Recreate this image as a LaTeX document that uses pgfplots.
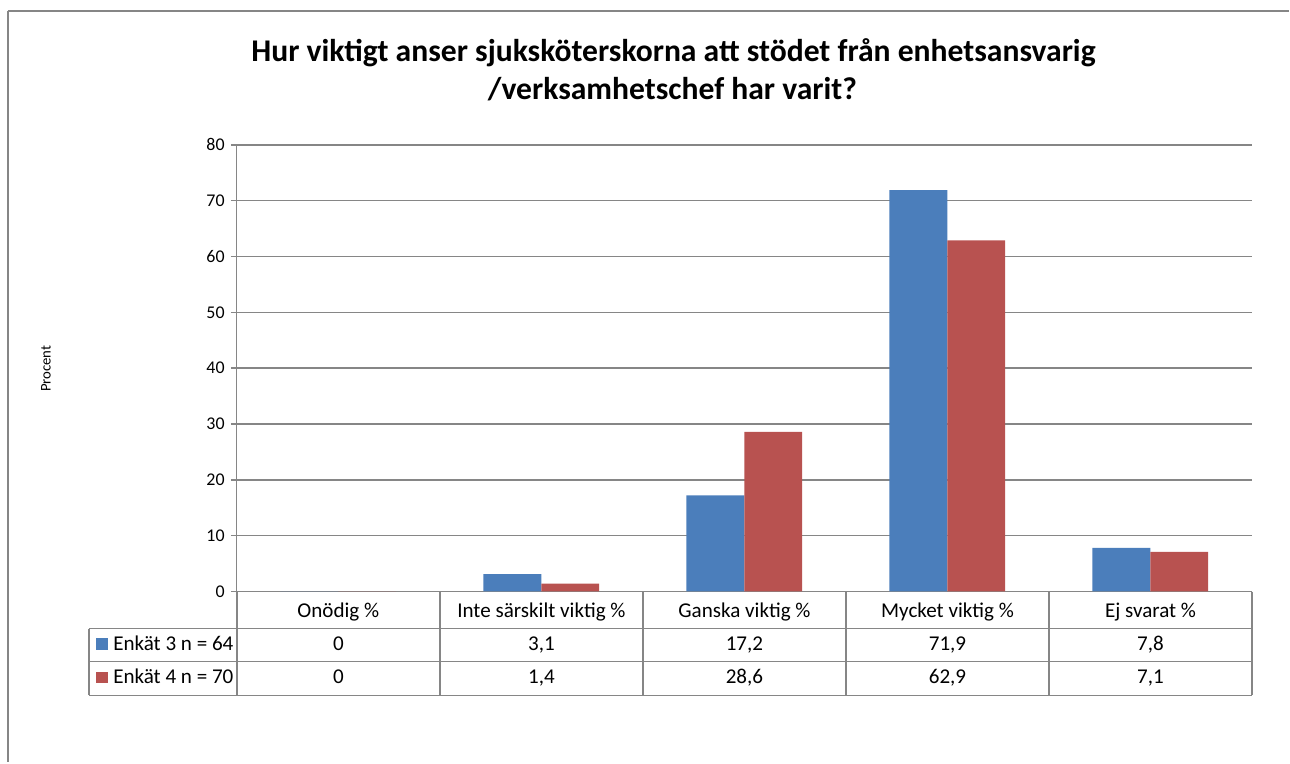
\documentclass[border=0pt]{standalone}
\usepackage{fontspec}
\setmainfont{Carlito}
\usepackage{pgfplots}
\usepackage{pgfplotstable}
\pgfplotsset{compat=1.18}
\definecolor{serA}{RGB}{75,126,187}
\definecolor{serB}{RGB}{184,82,80}
\definecolor{lineg}{RGB}{134,134,134}

% svar per kategori (procent)
\pgfplotstableread{
x  e3    e4
0  0     0
1  3.1   1.4
2  17.2  28.6
3  71.9  62.9
4  7.8   7.1
}\svar

\newcommand{\tf}{\fontsize{12}{14}\selectfont}
\newcommand{\af}{\fontsize{10.2}{12}\selectfont}

\begin{document}
\begin{tikzpicture}
\begin{scope}[x=0.02cm,y=-0.02cm]
  \path (0,0) rectangle (1290,763);
  % ram
  \draw[lineg,line width=1.1pt] (8,11) -- (1290,11);
  \draw[lineg,line width=1.1pt] (8,11) -- (8,763);
  % titel
  \node[anchor=base,font=\fontsize{18}{21}\selectfont\bfseries] at (674,62)
    {Hur viktigt anser sjuksköterskorna att stödet från enhetsansvarig};
  \node[anchor=base,font=\fontsize{18}{21}\selectfont\bfseries] at (673,100)
    {/verksamhetschef har varit?};
  \node[rotate=90,font=\fontsize{8.4}{10}\selectfont] at (46,369) {Procent};
  % datatabell
  \foreach \yy in {629,662,696} \draw[lineg,line width=0.8pt] (89,\yy) -- (1253,\yy);
  \draw[lineg,line width=0.8pt] (89,629) -- (89,696);
  \foreach \xx in {237,440.2,643.4,846.6,1049.8,1253}
    \draw[lineg,line width=0.8pt] (\xx,592) -- (\xx,696);
  \foreach \lab [count=\i from 0] in {Onödig \%,Inte särskilt viktig \%,Ganska viktig \%,Mycket viktig \%,Ej svarat \%}
    \node[anchor=base,font=\tf] at (338.6+203.2*\i,617.5) {\lab};
  \foreach \v [count=\i from 0] in {0,{3,1},{17,2},{71,9},{7,8}}
    \node[anchor=base,font=\tf] at (338.6+203.2*\i,651) {\v};
  \foreach \v [count=\i from 0] in {0,{1,4},{28,6},{62,9},{7,1}}
    \node[anchor=base,font=\tf] at (338.6+203.2*\i,684.5) {\v};
  \fill[serA] (96,638) rectangle (108,650);
  \fill[serB] (96,672) rectangle (108,684);
  \node[anchor=base west,font=\tf,inner sep=0pt] at (113,651) {Enkät 3 n = 64};
  \node[anchor=base west,font=\tf,inner sep=0pt] at (113,684.5) {Enkät 4 n = 70};
\end{scope}
\begin{axis}[
    at={(4.74cm,-11.84cm)}, anchor=south west,
    scale only axis, width=20.32cm, height=8.94cm,
    ybar=0pt, bar width=0.285,
    xmin=-0.5, xmax=4.5, ymin=0, ymax=80,
    xtick=\empty, ytick={0,10,...,80},
    axis x line*=bottom, axis y line*=left,
    axis line style={lineg,line width=0.8pt},
    ymajorgrids, grid style={lineg,line width=0.8pt},
    tick align=outside, major tick length=0.12cm,
    tick style={lineg,line width=0.8pt},
    yticklabel style={font=\af},
    /pgf/number format/assume math mode=true,
    clip=false,
  ]
  \addplot[fill=serA,draw=none] table[x=x,y=e3] {\svar};
  \addplot[fill=serB,draw=none] table[x=x,y=e4] {\svar};
\end{axis}
\end{tikzpicture}
\end{document}
